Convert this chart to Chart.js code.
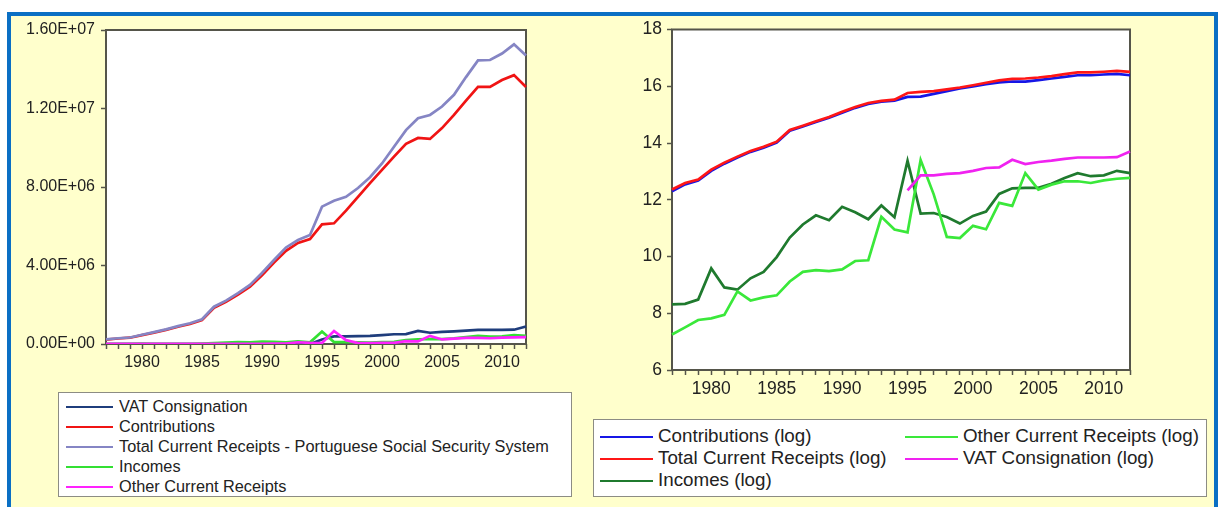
<!DOCTYPE html>
<html>
<head>
<meta charset="utf-8">
<script src="https://cdn.jsdelivr.net/npm/chart.js@4.4.1/dist/chart.umd.min.js"></script>
<style>
  html, body { margin: 0; padding: 0; background: #ffffff; width: 1220px; height: 507px; overflow: hidden; }
  .frame { position: absolute; left: 7px; top: 12px; width: 1211px; height: 520px; box-sizing: border-box;
           border: 4px solid #0a6fc4; background: #ffffcc; }
  canvas { position: absolute; }
  .legend { position: absolute; background: #ffffff; border: 1px solid #8c8c84; box-sizing: border-box;
            font-family: "Liberation Sans", Arial, sans-serif; color: #222; }
  .swatch { position: absolute; height: 2.5px; }
  .txt { position: absolute; line-height: 1; white-space: nowrap; }
</style>
</head>
<body>
<div class="frame"></div>
<canvas id="levels" width="540" height="360" style="left:12px;top:14px;width:540px;height:360px"></canvas>
<canvas id="logs" width="600" height="390" style="left:580px;top:14px;width:600px;height:390px"></canvas>
<div id="legendLevels" class="legend" style="left:58px;top:392px;width:514px;height:105px"></div>
<div id="legendLogs" class="legend" style="left:593px;top:419px;width:614px;height:78px"></div>
<script>
// Portuguese Social Security System, current receipts (euros), 1977-2012
const years = [1977, 1978, 1979, 1980, 1981, 1982, 1983, 1984, 1985, 1986, 1987, 1988,
               1989, 1990, 1991, 1992, 1993, 1994, 1995, 1996, 1997, 1998, 1999, 2000,
               2001, 2002, 2003, 2004, 2005, 2006, 2007, 2008, 2009, 2010, 2011, 2012];

const vatConsignation = [0, 0, 0, 0, 0, 0, 0, 0, 0, 0, 0, 0, 0, 0, 0, 0, 0, 0,
  226000, 384000, 384000, 404000, 416000, 451000, 498000, 508000, 666000, 573000,
  615000, 646000, 686000, 721000, 721000, 721000, 729000, 890000];

const contributions = [220000, 280000, 320000, 450000, 580000, 720000, 880000, 1020000,
  1220000, 1850000, 2150000, 2520000, 2920000, 3500000, 4150000, 4750000, 5150000, 5350000,
  6100000, 6150000, 6800000, 7500000, 8200000, 8870000, 9550000, 10200000, 10500000,
  10450000, 11000000, 11670000, 12400000, 13100000, 13100000, 13450000, 13700000, 13100000];

const totalReceipts = [233000, 293000, 331000, 470000, 603000, 744000, 909000, 1056000,
  1260000, 1900000, 2210000, 2590000, 3010000, 3620000, 4280000, 4920000, 5300000, 5550000,
  7000000, 7300000, 7500000, 7950000, 8500000, 9200000, 10050000, 10900000, 11500000,
  11670000, 12100000, 12700000, 13600000, 14450000, 14470000, 14800000, 15270000, 14700000];

const incomes = [4070, 4150, 4820, 14500, 7400, 6840, 10200, 12800, 21600, 43000, 68000,
  94000, 79000, 127000, 105000, 82000, 133000, 88000, 640000, 100000, 102000, 88500, 70300,
  92000, 107000, 200000, 243000, 247000, 247000, 285000, 351000, 416000, 373000, 384000,
  451000, 416000];

const otherReceipts = [1410, 1810, 2350, 2490, 2810, 6440, 4680, 5220, 5600, 9140, 12800,
  13600, 13200, 14000, 18800, 19300, 89000, 57000, 51600, 660000, 197000, 43900, 42200,
  64900, 57500, 146000, 131000, 416000, 233000, 277000, 312000, 312000, 294000, 322000,
  341000, 351000];

// axis ranges and tick steps
const levelTicks = [0, 4000000, 8000000, 12000000, 16000000];
const logTicks = [6, 8, 10, 12, 14, 16, 18];

const FONT = '"Liberation Sans", Arial, sans-serif';
const AXIS = '#55554a';
const INK = '#222222';

// natural log, leaving years without receipts empty
const ln = arr => arr.map(v => (v > 0 ? Math.log(v) : null));

// 1.60E+07 style labels
function sci(v) {
  const parts = Number(v).toExponential(2).toUpperCase().split('E');
  const exp = parts[1];
  return parts[0] + 'E' + exp[0] + exp.slice(1).padStart(2, '0');
}

// white plot area with a dark frame
const plotFrame = {
  id: 'plotFrame',
  beforeDraw(chart) {
    const a = chart.chartArea, c = chart.ctx;
    c.save();
    c.fillStyle = '#ffffff';
    c.fillRect(a.left, a.top, a.right - a.left, a.bottom - a.top);
    c.restore();
  },
  beforeDatasetsDraw(chart) {
    const a = chart.chartArea, c = chart.ctx;
    c.save();
    c.strokeStyle = AXIS;
    c.lineWidth = 2;
    c.strokeRect(a.left, a.top, a.right - a.left, a.bottom - a.top);
    c.restore();
  }
};

function series(label, values, color, i) {
  return { label, data: values, borderColor: color, backgroundColor: color,
           borderWidth: 2.7, pointRadius: 0, tension: 0, fill: false,
           spanGaps: false, order: -i };
}

function makeOptions(cfg) {
  return {
    responsive: false, animation: false, devicePixelRatio: 1,
    layout: { padding: { left: 0, right: cfg.padRight, top: cfg.padTop, bottom: 0 } },
    plugins: { legend: { display: false }, tooltip: { enabled: false } },
    scales: {
      x: {
        type: 'category', offset: false,
        grid: { display: true, drawOnChartArea: false, drawTicks: true, tickLength: 5,
                color: AXIS, tickWidth: 1.5 },
        border: { display: false },
        ticks: { autoSkip: false, maxRotation: 0, minRotation: 0, padding: 4, color: INK,
                 font: { family: FONT, size: cfg.fontSize },
                 callback: (v, i) => (years[i] % 5 === 0 ? String(years[i]) : '') },
        afterFit: s => { s.height = cfg.xHeight; }
      },
      y: {
        min: cfg.ticks[0], max: cfg.ticks[cfg.ticks.length - 1],
        afterBuildTicks: s => { s.ticks = cfg.ticks.map(value => ({ value })); },
        grid: { display: true, drawOnChartArea: false, drawTicks: true, tickLength: 5,
                color: AXIS, tickWidth: 1.5 },
        border: { display: false },
        ticks: { padding: cfg.yPad, color: INK, font: { family: FONT, size: cfg.fontSize },
                 callback: cfg.fmt },
        afterFit: s => { s.width = cfg.yWidth; }
      }
    }
  };
}

// levels chart
const levelSeries = [
  ['VAT Consignation', vatConsignation, '#1f3d7c'],
  ['Contributions', contributions, '#f01414'],
  ['Total Current Receipts - Portuguese Social Security System', totalReceipts, '#8585c4'],
  ['Incomes', incomes, '#33e033'],
  ['Other Current Receipts', otherReceipts, '#ff22ff']
];

const levelsChart = new Chart(document.getElementById('levels'), {
  type: 'line',
  data: { labels: years, datasets: levelSeries.map((s, i) => series(s[0], s[1], s[2], i)) },
  options: makeOptions({ padRight: 26, padTop: 16, xHeight: 30, yWidth: 94, yPad: 6,
                         fontSize: 16, ticks: levelTicks, fmt: v => sci(v) }),
  plugins: [plotFrame]
});

// log chart
const logSeries = [
  ['Contributions (log)', ln(contributions), '#1616e6'],
  ['Total Current Receipts (log)', ln(totalReceipts), '#ff1616'],
  ['Incomes (log)', ln(incomes), '#1f7a2e'],
  ['Other Current Receipts (log)', ln(otherReceipts), '#3ae83a'],
  ['VAT Consignation (log)', ln(vatConsignation), '#f022f0']
];

const logsChart = new Chart(document.getElementById('logs'), {
  type: 'line',
  data: { labels: years, datasets: logSeries.map((s, i) => series(s[0], s[1], s[2], i)) },
  options: makeOptions({ padRight: 50, padTop: 13, xHeight: 34, yWidth: 92, yPad: 5,
                         fontSize: 17.5, ticks: logTicks, fmt: v => String(v) }),
  plugins: [plotFrame]
});

// boxed legends built from the datasets
function buildLegend(el, chart, opt) {
  chart.data.datasets.forEach((ds, i) => {
    const col = Math.floor(i / opt.rows), row = i % opt.rows;
    const cy = opt.firstRow + row * opt.rowGap;
    const sw = document.createElement('div');
    sw.className = 'swatch';
    sw.style.left = opt.colX[col] + 'px';
    sw.style.width = opt.swatchW + 'px';
    sw.style.top = (cy - 1.25) + 'px';
    sw.style.background = ds.borderColor;
    el.appendChild(sw);
    const tx = document.createElement('div');
    tx.className = 'txt';
    tx.style.left = (opt.colX[col] + opt.swatchW + opt.gap) + 'px';
    tx.style.top = (cy - opt.fontSize * 0.55) + 'px';
    tx.style.fontSize = opt.fontSize + 'px';
    tx.textContent = ds.label;
    el.appendChild(tx);
  });
}

buildLegend(document.getElementById('legendLevels'), levelsChart,
  { rows: 5, firstRow: 14, rowGap: 20, colX: [7], swatchW: 47, gap: 6, fontSize: 16.3 });
buildLegend(document.getElementById('legendLogs'), logsChart,
  { rows: 3, firstRow: 17, rowGap: 22, colX: [6, 311], swatchW: 53, gap: 5, fontSize: 18.8 });
</script>
</body>
</html>
